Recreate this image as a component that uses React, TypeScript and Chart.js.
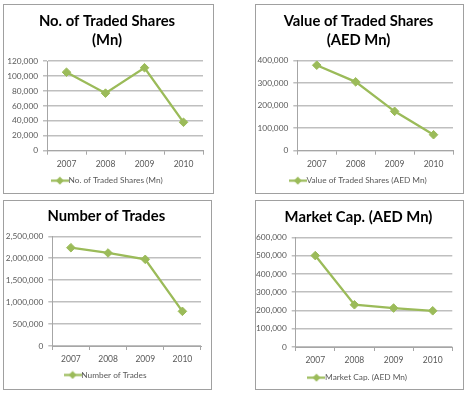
import { useEffect, useRef } from "react";
import { Chart, registerables } from "chart.js";
Chart.register(...registerables);

const years = ["2007", "2008", "2009", "2010"];
const tradedShares = [105000, 77000, 111000, 38000];
const tradedValue = [380000, 306000, 175000, 71000];
const numberOfTrades = [2240000, 2120000, 1975000, 790000];
const marketCap = [500000, 231000, 213000, 198000];

const titles = [
  ["No. of Traded Shares", "(Mn)"],
  ["Value of Traded Shares", "(AED Mn)"],
  ["Number of Trades"],
  ["Market Cap. (AED Mn)"],
];
const seriesNames = [
  "No. of Traded Shares (Mn)",
  "Value of Traded Shares (AED Mn)",
  "Number of Trades",
  "Market Cap. (AED Mn)",
];
const yMax = [120000, 400000, 2500000, 600000];
const yStep = [20000, 100000, 500000, 100000];

const GREEN = "#9BBB59";
const FONT = "Lato, 'Open Sans', sans-serif";

type Layout = {
  box: [number, number, number, number];
  canvas: [number, number, number, number];
  area: [number, number, number, number]; // L R T B
  titleY: number;
  legendY: number;
  titleCenter: number;
  legendCenter: number;
};

const layouts: Layout[] = [
  { box: [3, 4, 211, 190], canvas: [3, 4, 211, 196], area: [47, 203, 61, 150.7], titleY: 21, legendY: 181, titleCenter: 107, legendCenter: 109 },
  { box: [255, 4, 209, 190], canvas: [255, 4, 209, 196], area: [297.3, 453, 60.7, 150.7], titleY: 21, legendY: 181, titleCenter: 358.5, legendCenter: 360 },
  { box: [3, 200, 209, 190], canvas: [3, 200, 209, 192], area: [52.3, 201, 236.3, 346], titleY: 216, legendY: 375.3, titleCenter: 106.3, legendCenter: 107.3 },
  { box: [255, 200, 209, 190], canvas: [255, 200, 209, 192], area: [295.7, 452.3, 237.3, 347], titleY: 217.7, legendY: 378, titleCenter: 358.5, legendCenter: 359.5 },
];

const datas = [tradedShares, tradedValue, numberOfTrades, marketCap];

function legendIcon(): HTMLCanvasElement {
  const c = document.createElement("canvas");
  c.width = 18;
  c.height = 9;
  const ctx = c.getContext("2d")!;
  ctx.strokeStyle = GREEN;
  ctx.lineWidth = 2.2;
  ctx.beginPath();
  ctx.moveTo(0, 4.5);
  ctx.lineTo(18, 4.5);
  ctx.stroke();
  ctx.fillStyle = GREEN;
  ctx.beginPath();
  ctx.moveTo(9, 0.5);
  ctx.lineTo(13, 4.5);
  ctx.lineTo(9, 8.5);
  ctx.lineTo(5, 4.5);
  ctx.closePath();
  ctx.fill();
  return c;
}

function Panel({ idx }: { idx: number }) {
  const ref = useRef<HTMLCanvasElement>(null);
  const L = layouts[idx];
  useEffect(() => {
    const [cx, cy, cw, ch] = L.canvas;
    const [aL, aR, aT, aB] = L.area;
    const titleFont = 14.8;
    const titleLH = 19.5;
    const legendFont = 8.3;
    const legendPad = 4;
    const padRight = cx + cw - aR;
    const padLeft = 0;
    const padBottom = cy + ch - (legendFont + 5.5) - L.legendY;
    const yWidth = aL - cx - padLeft;
    const nLines = titles[idx].length;
    const tPadTop = L.titleY - cy - titleLH / 2;
    const tPadBottom = aT - cy - (tPadTop + nLines * titleLH);
    const legendTop = cy + ch - padBottom - (legendFont + legendPad + 10);
    const xHeight = legendTop - aB;
    const naturalCenter = (cx + padLeft + aR) / 2;
    const titleShift = L.titleCenter - naturalCenter;
    const legendShift = L.legendCenter - naturalCenter;

    const shiftPlugin = {
      id: "shiftBoxes",
      afterLayout(chart: any) {
        if (chart.titleBlock) {
          chart.titleBlock.left += titleShift;
          chart.titleBlock.right += titleShift;
        }
        if (chart.legend) {
          chart.legend.left += legendShift;
          chart.legend.right += legendShift;
        }
      },
    };

    const chart = new Chart(ref.current!, {
      type: "line",
      data: {
        labels: years,
        datasets: [
          {
            label: seriesNames[idx],
            data: datas[idx],
            borderColor: GREEN,
            backgroundColor: GREEN,
            borderWidth: 2.3,
            pointStyle: "rectRot",
            pointRadius: 4.3,
            pointBorderWidth: 1,
            pointBackgroundColor: GREEN,
            pointBorderColor: GREEN,
            tension: 0,
          },
        ],
      },
      options: {
        animation: false,
        responsive: false,
        maintainAspectRatio: false,
        layout: { padding: { left: padLeft, right: padRight, top: 0, bottom: padBottom } },
        plugins: {
          title: {
            display: true,
            text: titles[idx],
            color: "#000",
            font: { family: FONT, size: titleFont, weight: "bold", lineHeight: titleLH / titleFont },
            padding: { top: tPadTop, bottom: tPadBottom },
          },
          legend: {
            display: true,
            position: "bottom",
            labels: {
              usePointStyle: true,
              pointStyle: legendIcon() as any,
              pointStyleWidth: 9,
              boxHeight: 9,
              padding: legendPad,
              color: "#595959",
              font: { family: FONT, size: legendFont },
            },
          },
          tooltip: { enabled: false },
        },
        scales: {
          x: {
            offset: true,
            grid: {
              display: true,
              offset: true,
              drawOnChartArea: false,
              drawTicks: true,
              tickLength: 4,
              color: "#a6a6a6",
            },
            border: { display: true, color: "#a6a6a6", width: 1 },
            ticks: { color: "#595959", font: { family: FONT, size: 8.5 }, padding: 4, maxRotation: 0 },
            afterFit: (s: any) => {
              s.height = xHeight;
            },
          },
          y: {
            min: 0,
            max: yMax[idx],
            grid: { color: "#bfbfbf", lineWidth: 1.5, tickLength: 4, drawTicks: true },
            border: { display: true, color: "#a6a6a6", width: 1 },
            ticks: {
              stepSize: yStep[idx],
              color: "#595959",
              font: { family: FONT, size: 8.3 },
              padding: 5,
              callback: (v: any) => Number(v).toLocaleString("en-US"),
            },
            afterFit: (s: any) => {
              s.width = yWidth;
            },
          },
        },
      },
      plugins: [shiftPlugin],
    });
    return () => chart.destroy();
  }, [idx]);

  const [bx, by, bw, bh] = L.box;
  const [cx, cy, cw, ch] = L.canvas;
  return (
    <>
      <div
        style={{
          position: "absolute",
          left: bx,
          top: by,
          width: bw,
          height: bh,
          boxSizing: "border-box",
          border: "1px solid #a0a0a0",
          background: "#fff",
        }}
      />
      <canvas
        ref={ref}
        width={cw}
        height={ch}
        style={{ position: "absolute", left: cx, top: cy, width: cw, height: ch }}
      />
    </>
  );
}

export default function App() {
  return (
    <div style={{ position: "absolute", left: 0, top: 0, width: 468, height: 394, background: "#fff", overflow: "hidden" }}>
      {[0, 1, 2, 3].map((i) => (
        <Panel key={i} idx={i} />
      ))}
    </div>
  );
}
